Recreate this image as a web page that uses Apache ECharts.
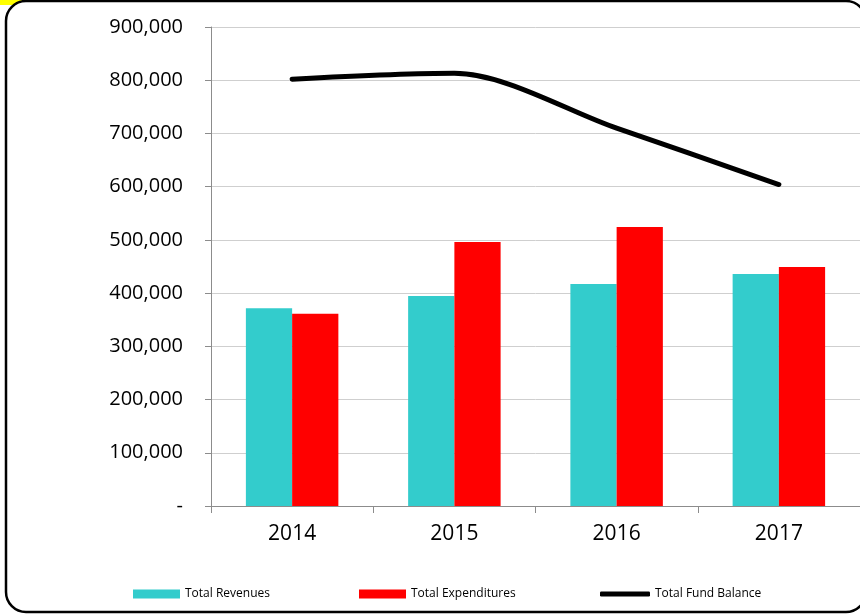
<!DOCTYPE html>
<html>
<head>
<meta charset="utf-8">
<script src="https://cdn.jsdelivr.net/npm/echarts@6/dist/echarts.min.js"></script>
<style>
  html, body { margin: 0; padding: 0; background: #fff; }
  #chart { width: 860px; height: 615px; }
</style>
</head>
<body>
<div id="chart"></div>
<script>
// Fiscal years shown on the category axis
const years = ['2014', '2015', '2016', '2017'];

// Annual totals
const totalRevenues = [371500, 394600, 417000, 436000];
const totalExpenditures = [361000, 496000, 524000, 449000];
const totalFundBalance = [802000, 813000, 710000, 604000];

// Value axis range
const yMin = 0;
const yMax = 900000;
const yStep = 100000;

const FONT = '"Open Sans", "Noto Sans", sans-serif';

const chart = echarts.init(document.getElementById('chart'), null, { renderer: 'canvas' });

function fmtThousands(v) {
  if (v === 0) return '-';
  return String(v).replace(/\B(?=(\d{3})+(?!\d))/g, ',');
}

const legendText = { fontFamily: FONT, fontSize: 12, color: '#000' };

chart.setOption({
  backgroundColor: '#fff',
  animation: false,
  graphic: [
    { type: 'rect', z: -20, shape: { x: 0, y: 0, width: 26, height: 5 }, style: { fill: '#ffff00' } },
    {
      type: 'rect', z: -10,
      shape: { x: 6, y: 1, width: 860, height: 611, r: 20 },
      style: { fill: '#fff', stroke: '#000', lineWidth: 2.5 }
    }
  ],
  grid: { left: 211, right: -2, top: 27, bottom: 109, containLabel: false },
  legend: [
    {
      left: 133, top: 588, padding: 0, itemWidth: 47, itemHeight: 9, icon: 'rect',
      data: ['Total Revenues'], textStyle: legendText
    },
    {
      left: 359, top: 588, padding: 0, itemWidth: 47, itemHeight: 9, icon: 'rect',
      data: ['Total Expenditures'], textStyle: legendText
    },
    {
      left: 600, top: 588, padding: 0, itemWidth: 50, itemHeight: 5,
      data: [{ name: 'Total Fund Balance', icon: 'roundRect' }], textStyle: legendText,
      itemStyle: { color: '#000' }
    }
  ],
  xAxis: {
    type: 'category',
    data: years,
    axisLine: { lineStyle: { color: '#8c8c8c', width: 1 } },
    axisTick: { show: true, length: 7, lineStyle: { color: '#8c8c8c' } },
    axisLabel: { fontFamily: FONT, fontSize: 21, color: '#000', margin: 18 }
  },
  yAxis: {
    type: 'value',
    min: yMin, max: yMax, interval: yStep,
    axisLine: { show: true, lineStyle: { color: '#8c8c8c', width: 1 } },
    axisTick: { show: true, length: 6, lineStyle: { color: '#8c8c8c' } },
    splitLine: { lineStyle: { color: '#cfcfcf', width: 1 } },
    axisLabel: { fontFamily: FONT, fontSize: 20, color: '#000', margin: 28, formatter: fmtThousands }
  },
  series: [
    {
      name: 'Total Revenues', type: 'bar', data: totalRevenues,
      barGap: '0%', barCategoryGap: '43%',
      itemStyle: { color: '#33cccc' }
    },
    {
      name: 'Total Expenditures', type: 'bar', data: totalExpenditures,
      barGap: '0%', barCategoryGap: '43%',
      itemStyle: { color: '#ff0000' }
    },
    {
      name: 'Total Fund Balance', type: 'line', data: totalFundBalance,
      smooth: 0.3, symbol: 'none', z: 5,
      lineStyle: { color: '#000', width: 5, cap: 'round', join: 'round' },
      itemStyle: { color: '#000' }
    }
  ]
});
</script>
</body>
</html>
